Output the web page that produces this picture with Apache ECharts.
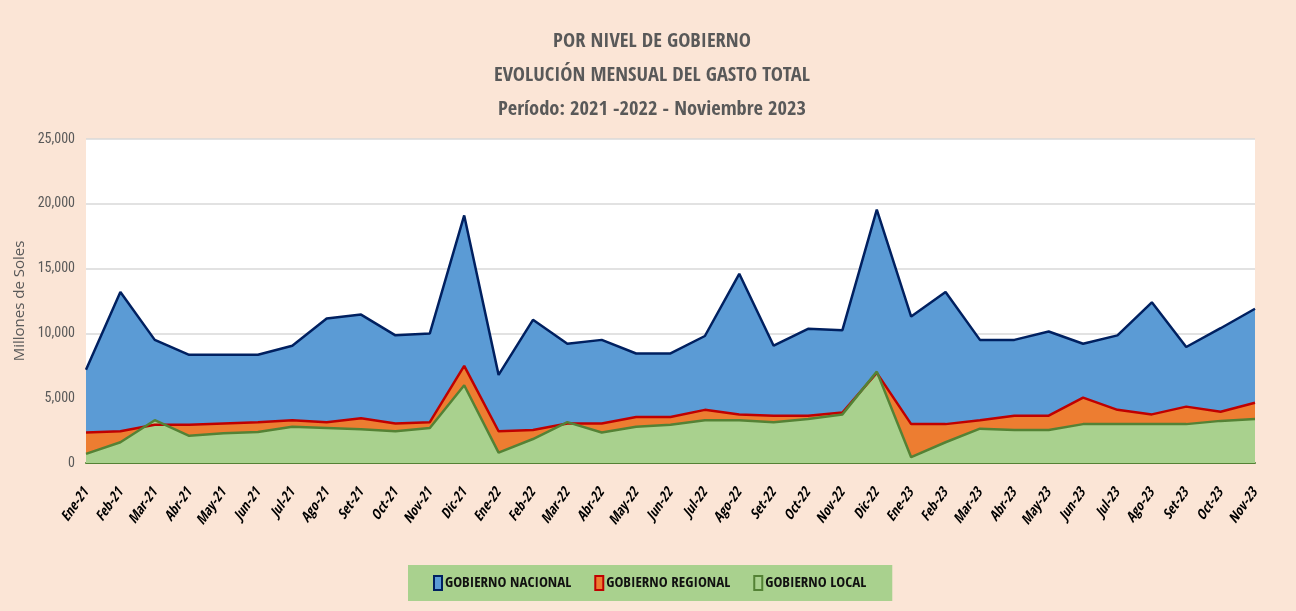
<!DOCTYPE html>
<html>
<head>
<meta charset="utf-8">
<script src="https://cdn.jsdelivr.net/npm/echarts@6/dist/echarts.min.js"></script>
<style>
  html, body { margin: 0; padding: 0; background: #fbe5d6; }
  #main { width: 1296px; height: 611px; }
</style>
</head>
<body>
<div id="main"></div>
<script>
// meses (eje x)
var meses = ['Ene-21', 'Feb-21', 'Mar-21', 'Abr-21', 'May-21', 'Jun-21', 'Jul-21', 'Ago-21', 'Set-21', 'Oct-21', 'Nov-21', 'Dic-21',
  'Ene-22', 'Feb-22', 'Mar-22', 'Abr-22', 'May-22', 'Jun-22', 'Jul-22', 'Ago-22', 'Set-22', 'Oct-22', 'Nov-22', 'Dic-22',
  'Ene-23', 'Feb-23', 'Mar-23', 'Abr-23', 'May-23', 'Jun-23', 'Jul-23', 'Ago-23', 'Set-23', 'Oct-23', 'Nov-23']

// millones de soles
var nacional = [7200, 13200, 9500, 8350, 8350, 8350, 9050, 11150, 11450, 9850, 10000, 19100,
  6800, 11050, 9200, 9500, 8450, 8450, 9800, 14600, 9050, 10350, 10250, 19550,
  11300, 13200, 9500, 9500, 10150, 9200, 9850, 12400, 8950, 10400, 11900]
var regional = [2350, 2450, 2950, 2950, 3050, 3150, 3300, 3150, 3450, 3050, 3150, 7500,
  2450, 2550, 3050, 3050, 3550, 3550, 4100, 3750, 3650, 3650, 3900, 6950,
  3000, 3000, 3300, 3650, 3650, 5050, 4100, 3750, 4350, 3950, 4650]
var local = [700, 1600, 3300, 2100, 2300, 2400, 2800, 2700, 2600, 2450, 2700, 6000,
  800, 1850, 3150, 2350, 2800, 2950, 3300, 3300, 3150, 3400, 3750, 7050,
  450, 1600, 2650, 2550, 2550, 3000, 3000, 3000, 3000, 3250, 3400]

var yTicks = [0, 5000, 10000, 15000, 20000, 25000]

var cond = '"Open Sans Condensed", "Roboto Condensed", sans-serif'

var myChart = echarts.init(document.getElementById('main'))

var option = {
  backgroundColor: '#fbe5d6',
  animation: false,
  title: {
    text: 'POR NIVEL DE GOBIERNO\nEVOLUCIÓN MENSUAL DEL GASTO TOTAL\nPeríodo: 2021 -2022 - Noviembre 2023',
    left: 647,
    top: 20,
    textAlign: 'center',
    textStyle: {
      fontFamily: cond,
      fontSize: 20.5,
      fontWeight: 'bold',
      color: '#595959',
      lineHeight: 34
    }
  },
  grid: {
    left: 86,
    right: 41,
    top: 139,
    bottom: 148,
    show: true,
    backgroundColor: '#ffffff',
    borderWidth: 0
  },
  legend: {
    top: 565,
    left: 408,
    backgroundColor: '#a9d18e',
    padding: [10, 26, 10, 25],
    itemGap: 23,
    itemWidth: 8,
    itemHeight: 14,
    icon: 'rect',
    textStyle: {
      fontFamily: cond,
      fontSize: 15,
      fontWeight: 'bold',
      color: '#111111',
      padding: [0, 0, 0, -2]
    },
    data: [
      { name: 'GOBIERNO NACIONAL', itemStyle: { color: '#5b9bd5', borderColor: '#002060', borderWidth: 2 } },
      { name: 'GOBIERNO REGIONAL', itemStyle: { color: '#ed7d31', borderColor: '#c00000', borderWidth: 2 } },
      { name: 'GOBIERNO LOCAL', itemStyle: { color: '#a9d18e', borderColor: '#548235', borderWidth: 2 } }
    ]
  },
  xAxis: {
    type: 'category',
    data: meses,
    boundaryGap: false,
    axisLine: { lineStyle: { color: '#548235', width: 2 } },
    axisTick: { show: false },
    axisLabel: {
      rotate: 55,
      interval: 0,
      margin: 27,
      fontFamily: cond,
      fontSize: 14,
      fontWeight: 'bold',
      fontStyle: 'italic',
      color: '#000000'
    }
  },
  yAxis: {
    type: 'value',
    min: yTicks[0],
    max: yTicks[yTicks.length - 1],
    interval: yTicks[1] - yTicks[0],
    name: 'Millones de Soles',
    nameLocation: 'middle',
    nameRotate: 90,
    nameGap: 48,
    nameTextStyle: {
      fontFamily: '"Open Sans", sans-serif',
      fontSize: 15,
      color: '#595959'
    },
    axisLine: { show: false },
    axisTick: { show: false },
    splitLine: { lineStyle: { color: '#d9d9d9', width: 1.5 } },
    axisLabel: {
      margin: 11,
      fontFamily: '"Roboto Condensed", sans-serif',
      fontSize: 14,
      color: '#595959',
      formatter: function (v) { return v.toLocaleString('en-US') }
    }
  },
  series: [
    {
      name: 'GOBIERNO NACIONAL',
      type: 'line',
      data: nacional,
      symbol: 'none',
      lineStyle: { color: '#002060', width: 2.5 },
      itemStyle: { color: '#5b9bd5' },
      areaStyle: { color: '#5b9bd5', opacity: 1 }
    },
    {
      name: 'GOBIERNO REGIONAL',
      type: 'line',
      data: regional,
      symbol: 'none',
      lineStyle: { color: '#c00000', width: 2.5 },
      itemStyle: { color: '#ed7d31' },
      areaStyle: { color: '#ed7d31', opacity: 1 }
    },
    {
      name: 'GOBIERNO LOCAL',
      type: 'line',
      data: local,
      symbol: 'none',
      lineStyle: { color: '#548235', width: 2.5 },
      itemStyle: { color: '#a9d18e' },
      areaStyle: { color: '#a9d18e', opacity: 1 }
    }
  ]
}

myChart.setOption(option)
</script>
</body>
</html>
